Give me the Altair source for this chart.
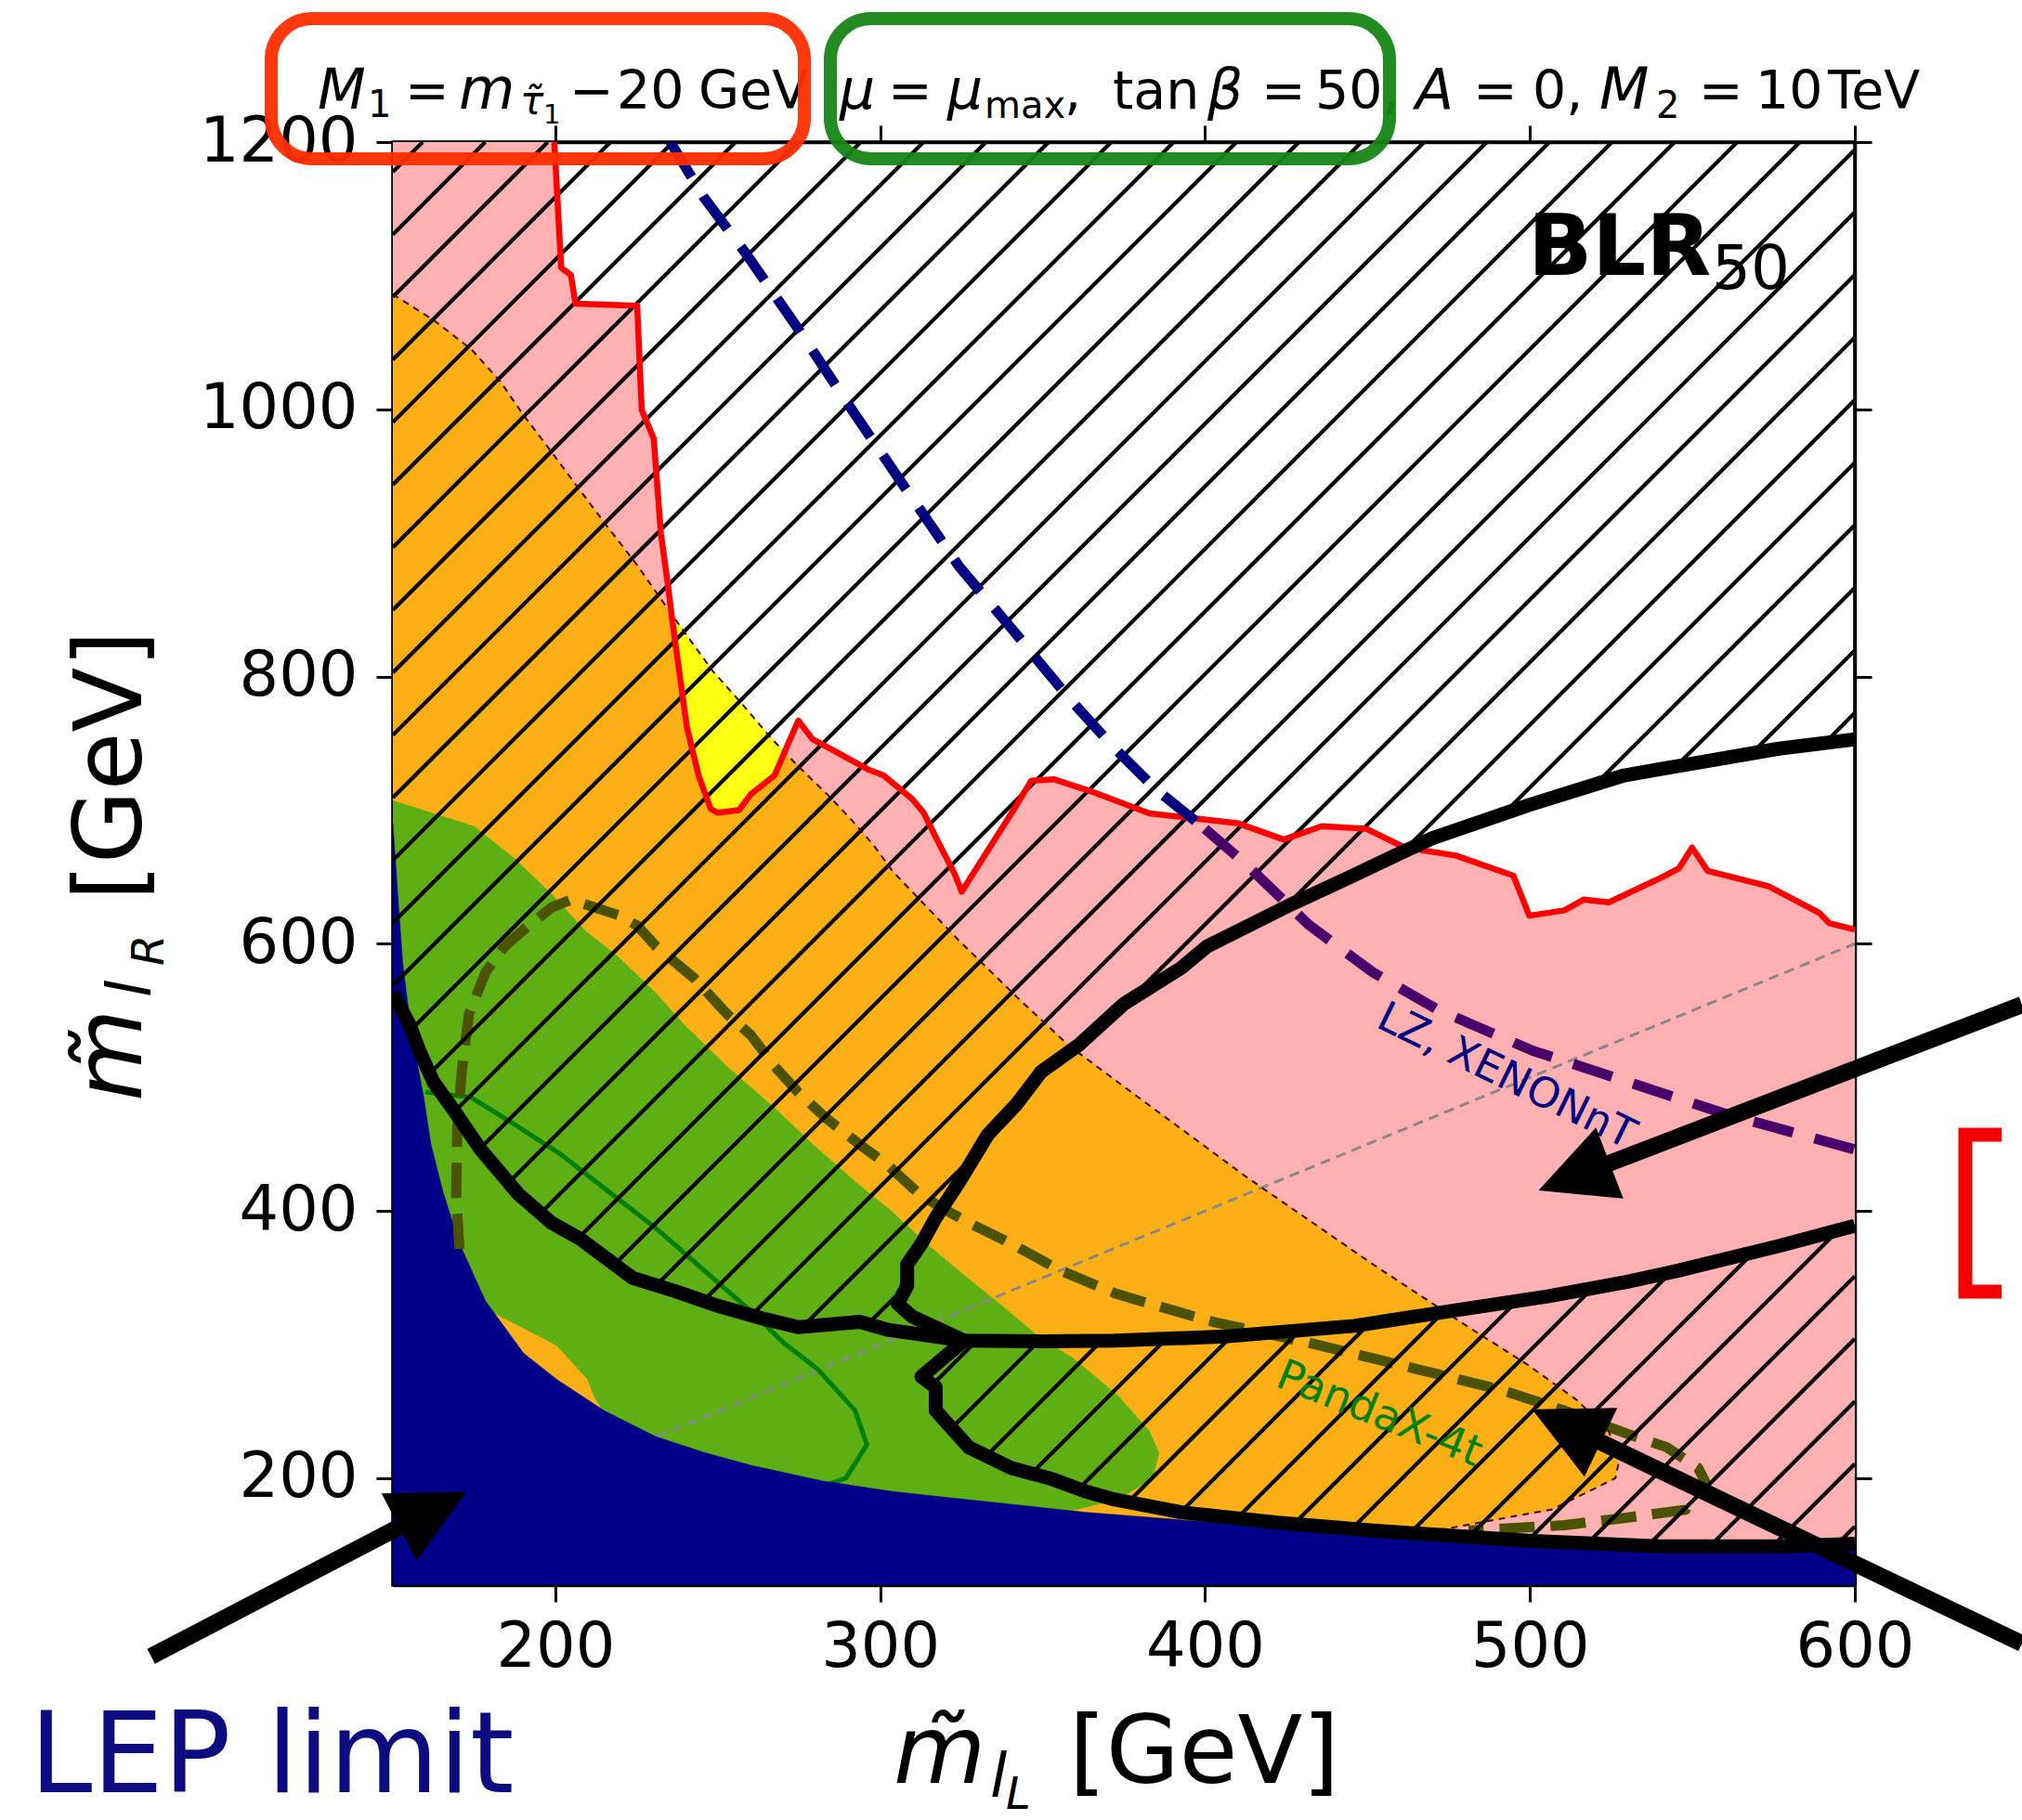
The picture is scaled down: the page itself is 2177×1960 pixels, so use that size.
import math
import altair as alt
import pandas as pd

# ------------------------------------------------------------------
# Data (GeV)
# ------------------------------------------------------------------
# red contour (upper edge of the pink region)
red_x = [199.7, 201.8, 204.8, 206.2, 225.2, 226.6, 230.3, 232.5, 234.7, 236.1, 238.3, 240.5, 244.1, 247.8,
         250.0, 256.5, 260.2, 267.5, 271.9, 274.8, 279.2, 283.5, 296.7, 301.0, 309.8, 313.4, 318.5, 322.9,
         325.1, 331.6, 341.0, 346.5, 353.6, 365.0, 382.9, 396.1, 410.4, 424.2, 435.9, 449.7, 461.5, 477.2,
         494.9, 499.8, 510.6, 516.5, 524.3, 540.0, 545.9, 549.9, 554.7, 573.4, 589.1, 592.1, 600.0]
red_y = [1200, 1106, 1100.6, 1079, 1077.5, 999.5, 978, 907, 868, 840, 801, 762, 726, 701,
         698, 700, 712, 726, 751, 767, 753, 747.5, 730, 726, 708.5, 698, 673, 652.5,
         639, 664, 700, 722, 723, 714, 697.5, 694, 690, 678, 688, 686, 672, 666,
         651, 621, 625, 633, 631, 649, 656.5, 672, 654.5, 643, 623, 615.5, 610.5]

# thin dashed boundary of the orange region
orange_x = [150, 162.4, 174.1, 183.0, 190.1, 199.0, 207.7, 216.4, 225.3, 232.5, 239.9, 248.5, 257.3, 266.0,
            274.7, 283.6, 290.7, 298.2, 303.9, 324.4, 343.4, 358.0, 373.1, 412.4, 451.7, 481.1, 498.8,
            514.5, 524.3, 527.3, 526.3, 516.5, 506.6, 492.8, 471.3]
orange_y = [1086, 1067, 1045, 1021, 996, 967.5, 939, 911, 883, 858, 832.6, 804, 780, 755,
            733, 712, 694, 673, 654, 602, 557, 524, 496.5, 426, 360, 313, 285.7,
            258.4, 235, 211.5, 200, 188.2, 176.4, 170.5, 160.8]

# green region outline
green_x = [150, 174.9, 187.3, 198.9, 209.1, 219.4, 231.0, 239.8, 252.9, 267.5, 279.2, 292.3, 303.9, 314.2,
           325.8, 337.5, 349.2, 359.3, 373.1, 382.9, 385.8, 383.9, 373.1, 359.3, 343.6, 320, 220,
           215.7, 212.1, 209.9, 200.4, 180, 175, 150]
green_y = [707, 688, 664, 637, 610, 590, 563, 539, 508, 477, 450, 422, 399, 375.5,
           352, 329, 305, 290, 262, 235, 219, 200, 184, 176, 170.6, 150, 200,
           246.7, 260.4, 274, 299.4, 325, 300, 300]

# yellow sliver
yellow_x = [235.6, 236.1, 238.3, 240.5, 244.1, 247.8, 250.0, 256.5, 260.2, 267.5, 270.6, 266.0, 257.3, 248.5, 239.9]
yellow_y = [849, 840, 801, 762, 726, 701, 698, 700, 712, 726, 743, 755, 780, 804, 832.6]

# LEP limit (upper edge of the navy region)
blue_x = [150, 151.5, 153.0, 155.2, 157.4, 159.5, 161.7, 165.4, 170.5, 178.5, 190.2, 200.4, 215.0, 231.0,
          245.6, 260.2, 282.1, 303.9, 333.1, 363.0, 402.0, 442.0, 500.0, 540.0, 600.0]
blue_y = [690, 637, 586, 543, 512, 485, 450, 414.5, 375.5, 332.6, 293.6, 274, 250.6, 231,
          219.4, 209.6, 198, 190, 182.3, 174.5, 167, 161, 154, 150, 146]

# thick black contours
curveA_x = [150, 155.2, 158.1, 162.5, 168.3, 177.0, 188.7, 198.9, 207.7, 223.7, 236.8, 250.0, 264.6, 274.8,
            293.7, 302.5, 325.8, 350.0, 372.2, 406.0, 446.0, 478.0, 505.4, 530.0, 545.0, 577.0, 600.0]
curveA_y = [563, 539, 520, 496.5, 477, 446, 412.5, 391, 379, 350, 340, 329, 319, 313,
            317, 311, 303, 302.5, 303, 306, 314, 326, 336, 347, 355, 374, 389]
curveB_x = [325.8, 309.8, 305.4, 308.3, 308.3, 312.7, 317.1, 324.4, 333.1, 342.0, 349.5, 361.0, 375.0,
            392.7, 400.6, 426.1, 443.8, 458.5, 470.0, 500.0, 529.0, 550.4, 576.6, 600.0]
curveB_y = [303, 321, 330.6, 344, 360, 375.5, 395, 422, 457, 480, 504, 524, 555,
            582, 598, 629, 649, 666, 679, 704, 726, 735, 746, 753]
curveC_x = [325.8, 312.7, 317.1, 317.1, 327.3, 340.4, 352.1, 363.3, 372.2, 392.7, 422.2, 451.7, 500.8,
            540.0, 579.3, 600.0]
curveC_y = [303, 276, 268, 250.6, 223, 207.6, 200, 190, 184, 174.5, 166.7, 160.8, 153,
            149, 149, 151]

# LZ, XENONnT limit
lz_x = [235.4, 245.6, 258.7, 274.8, 292.3, 308.3, 324.4, 340.4, 358.4, 371.5, 384.7, 400.0,
        412.4, 432.0, 451.7, 471.3, 500.8, 530.2, 559.7, 600.0]
lz_y = [1200, 1159, 1116.5, 1060, 996, 939, 882, 836, 783, 748, 716, 686,
        660, 614, 578.5, 551, 520, 496.5, 473, 446]
LZ_SPLIT = 11  # index where the line changes hue (enters the pink region)

# PandaX-4t limit
pandax_x = [170.5, 169.5, 169.8, 171.2, 173.4, 178.5, 184.4, 191.7, 198.9, 204.8, 219.4, 225.2, 231.0,
            242.7, 252.9, 260.2, 267.5, 274.8, 283.5, 293.7, 302.5, 311.2, 318.5, 327.3, 340.4, 355.0,
            372.2, 382.9, 402.5, 432.0, 451.7, 471.3, 491.0, 510.6, 530.2, 542.0, 551.8, 553.8, 549.9,
            547.9, 530.2, 510.6, 481.1]
pandax_y = [371.6, 410.6, 461.3, 504.3, 547.2, 578.5, 598, 613.5, 627.2, 633, 621.4, 613.6, 598,
            574.3, 547.2, 531.6, 508.2, 488.7, 469.1, 449.7, 434, 414.5, 402.9, 391.1, 375.5, 356,
            338.4, 330.6, 317, 301.3, 289.7, 278, 266.2, 250.6, 233, 223.3, 207.6, 198, 190.2,
            176.4, 170.6, 164.8, 160.8]

# thin green solid contour
gline_x = [160, 174.1, 187.3, 201.9, 216.4, 231.0, 245.6, 260.2, 270.4, 280.6, 292.3, 295.9, 289.4, 282.1]
gline_y = [489, 485, 465, 442, 414.5, 387, 356, 325, 301, 282, 250.6, 225, 200, 194]

# diagonal m_L = m_R
diag_v = [150, 600]

x_ticks = [200, 300, 400, 500, 600]
y_ticks = [200, 400, 600, 800, 1000, 1200]

# ------------------------------------------------------------------
# Geometry of the figure
# ------------------------------------------------------------------
X_MIN, X_MAX, Y_MIN, Y_MAX = 150, 600, 120, 1200
W, H = 1574, 1554
OX, OY = 423, 153
SX = W / (X_MAX - X_MIN)
SY = H / (Y_MAX - Y_MIN)


def pxd(fx, fy):
    """page pixel -> data coordinates"""
    return X_MIN + (fx - OX) / SX, Y_MAX - (fy - OY) / SY


XS = alt.Scale(domain=[X_MIN, X_MAX], nice=False, zero=False)
YS = alt.Scale(domain=[Y_MIN, Y_MAX], nice=False, zero=False)
XE = alt.X("x:Q", scale=XS, axis=None)
YE = alt.Y("y:Q", scale=YS, axis=None)


def df_xy(xs, ys):
    d = pd.DataFrame({"x": list(xs), "y": list(ys)})
    d["i"] = range(len(d))
    return d


def polygon(xs, ys, color):
    return alt.Chart(df_xy(xs, ys)).mark_line(
        fill=color, stroke=color, strokeWidth=0.5, clip=True
    ).encode(x=XE, y=YE, order="i:Q")


def line(xs, ys, color, width, dash=None, clip=True, opacity=1.0):
    kw = dict(color=color, strokeWidth=width, clip=clip, strokeCap="butt",
              strokeJoin="round", opacity=opacity)
    if dash:
        kw["strokeDash"] = dash
    return alt.Chart(df_xy(xs, ys)).mark_line(**kw).encode(x=XE, y=YE, order="i:Q")


# ---- hatching of the excluded region ----
iA = curveA_x.index(325.8)
H1 = ([(150, 1200), (150, curveA_y[0])] + list(zip(curveA_x[1:iA + 1], curveA_y[1:iA + 1]))
      + list(zip(curveB_x[1:], curveB_y[1:])) + [(600, 1200)])
H2 = (list(zip(curveA_x[iA:], curveA_y[iA:])) + [(600, 151)]
      + list(zip(curveC_x[::-1][1:-1], curveC_y[::-1][1:-1])))


def hatch(poly, spacing=67.4, phase=39.2):
    P = [((x - X_MIN) * SX, (y - Y_MIN) * SY) for x, y in poly]
    n = len(P)
    segs = []
    for k in range(-30, 30):
        c = phase + k * spacing
        xs = []
        for i in range(n):
            (x1, y1), (x2, y2) = P[i], P[(i + 1) % n]
            f1, f2 = y1 - x1 - c, y2 - x2 - c
            if (f1 > 0) != (f2 > 0):
                t = f1 / (f1 - f2)
                xs.append(x1 + t * (x2 - x1))
        xs.sort()
        for a, b in zip(xs[0::2], xs[1::2]):
            segs.append((X_MIN + a / SX, Y_MIN + (a + c) / SY, X_MIN + b / SX, Y_MIN + (b + c) / SY))
    return segs


hatch_df = pd.DataFrame(hatch(H1) + hatch(H2), columns=["x", "y", "x2", "y2"])
hatch_layer = alt.Chart(hatch_df).mark_rule(color="black", strokeWidth=4.2, clip=True).encode(
    x=XE, y=YE, x2="x2:Q", y2="y2:Q")

# ---- filled regions ----
pink = polygon([150, 150] + red_x + [600], [120, 1200] + red_y + [120], "#FFB0B0")
orange = polygon(orange_x + [450, 150], orange_y + [150, 120], "#FDB016")
green = polygon(green_x, green_y, "#5DAF14")
yellow = polygon(yellow_x, yellow_y, "#FFFF14")
blue = polygon(blue_x + [600, 150], blue_y + [120, 120], "#000088")

# ---- lines ----
diag = line(diag_v, diag_v, "#888888", 3, dash=[11, 7])
gline = line(gline_x, gline_y, "#008000", 5)
pandax = line(pandax_x, pandax_y, "#4B5200", 11, dash=[38, 17])
orange_edge = line(orange_x, orange_y, "#3a0a0a", 2, dash=[7, 6])
red_line = line(red_x, red_y, "#FF0000", 6.5)
lz1 = line(lz_x[:LZ_SPLIT + 1], lz_y[:LZ_SPLIT + 1], "#000080", 11, dash=[44, 24])
lz2 = line(lz_x[LZ_SPLIT:], lz_y[LZ_SPLIT:], "#48006A", 11, dash=[44, 24])
cA = line(curveA_x, curveA_y, "black", 15)
cB = line(curveB_x, curveB_y, "black", 15)
cC = line(curveC_x, curveC_y, "black", 15)

# ---- axes (bottom/left with labels, top/right ticks only) ----
ax_df = pd.DataFrame({"x": [X_MIN, X_MAX], "y": [Y_MIN, Y_MAX]})
axis_common = dict(tickColor="black", domainColor="black", tickWidth=3, domainWidth=3.5,
                   tickSize=18, grid=False, title=None, labelFlush=False, labelOverlap=False)
axes_main = alt.Chart(ax_df).mark_point(opacity=0).encode(
    x=alt.X("x:Q", scale=XS, axis=alt.Axis(orient="bottom", values=x_ticks, format="d",
                                           labelPadding=16, **axis_common)),
    y=alt.Y("y:Q", scale=YS, axis=alt.Axis(orient="left", values=y_ticks, format="d",
                                           labelPadding=20, **axis_common)))
axes_mirror = alt.Chart(ax_df).mark_point(opacity=0).encode(
    x=alt.X("x:Q", scale=XS, axis=alt.Axis(orient="top", values=x_ticks, labels=False, **axis_common)),
    y=alt.Y("y:Q", scale=YS, axis=alt.Axis(orient="right", values=y_ticks, labels=False, **axis_common)))


# ---- texts ----
def texts(rows, italic=False, weight="normal", color="black", angle=0, align="left",
          baseline="alphabetic"):
    d = pd.DataFrame(rows, columns=["fx", "fy", "t", "fs"])
    pts = [pxd(a, b) for a, b in zip(d.fx, d.fy)]
    d["x"] = [p[0] for p in pts]
    d["y"] = [p[1] for p in pts]
    return alt.Chart(d).mark_text(
        font="DejaVu Sans", fontStyle="italic" if italic else "normal", fontWeight=weight,
        color=color, angle=angle, align=align, baseline=baseline, clip=False
    ).encode(x=XE, y=YE, text="t:N", size=alt.Size("fs:Q", scale=None, legend=None))


title_italic = [(342, 117, "M", 60), (494, 117, "m", 62), (560, 123, "\u03c4\u0303", 42),
                (904, 117, "\u03bc", 60), (1020, 117, "\u03bc", 60), (1300, 117, "\u03b2", 60),
                (1524, 117, "A", 60), (1722, 117, "M", 62)]
title_normal = [(396, 126, "1", 40), (436, 117, "=", 57), (585, 133, "1", 29), (613, 117, "\u2212", 57),
                (664, 117, "20", 57), (752, 117, "GeV", 57), (956, 117, "=", 57), (1060, 127, "max", 40),
                (1146, 117, ",", 57), (1198, 117, "tan", 57), (1358, 117, "=", 57), (1416, 117, "50,", 57),
                (1586, 117, "=", 57), (1650, 117, "0,", 57), (1783, 127, "2", 40), (1829, 117, "=", 57),
                (1890, 117, "10", 57), (1968, 117, "TeV", 57)]

xt_italic = [(962, 1920, "m\u0303", 102), (1066, 1935, "l", 66), (1083, 1948, "L", 48)]
xt_normal = [(1151, 1920, "[GeV]", 102)]
yt_italic = [(152, 1186, "m\u0303", 102), (162, 1074, "l", 66), (176, 1040, "R", 48)]
yt_normal = [(152, 970, "[GeV]", 102)]

blr_bold = [(1645, 296, "BLR", 91)]
blr_sub = [(1843, 311, "50", 66)]
lep_text = [(32, 1930, "LEP limit", 121)]
lz_text = [(1622, 1159, "LZ, XENONnT", 45)]
px_text = [(1485, 1523, "PandaX-4t", 46)]

# ---- annotation boxes ----
boxes = pd.DataFrame({
    "fx1": [292, 894], "fx2": [866, 1496], "fy1": [20, 20], "fy2": [171, 171],
    "c": ["#FF2D00", "#168516"]})
bx = [pxd(a, b) for a, b in zip(boxes.fx1, boxes.fy1)]
bx2 = [pxd(a, b) for a, b in zip(boxes.fx2, boxes.fy2)]
boxes["x"] = [p[0] for p in bx]
boxes["y"] = [p[1] for p in bx]
boxes["x2"] = [p[0] for p in bx2]
boxes["y2"] = [p[1] for p in bx2]
box_layer = alt.Chart(boxes).mark_rect(filled=False, strokeWidth=14, cornerRadius=44, clip=False,
                                       opacity=0.95).encode(
    x=XE, y=YE, x2="x2:Q", y2="y2:Q", stroke=alt.Stroke("c:N", scale=None, legend=None))

# ---- arrows ----
arrows = [((162.7, 1783.7), (502.4, 1606.6)),
          ((2177, 1082), (1656.5, 1282)),
          ((2177, 1770), (1649.6, 1517.8))]
HEAD = 82
shaft_rows, head_rows = [], []
for (tx, ty), (hx, hy) in arrows:
    dx, dy = hx - tx, hy - ty
    L = math.hypot(dx, dy)
    ux, uy = dx / L, dy / L
    ex, ey = hx - ux * (HEAD - 12), hy - uy * (HEAD - 12)
    cx, cy = hx - ux * HEAD / 2, hy - uy * HEAD / 2
    a0 = pxd(tx, ty)
    a1 = pxd(ex, ey)
    shaft_rows.append((a0[0], a0[1], a1[0], a1[1]))
    c = pxd(cx, cy)
    ang = math.degrees(math.atan2(dx, -dy)) % 360
    head_rows.append((c[0], c[1], ang))
shaft_df = pd.DataFrame(shaft_rows, columns=["x", "y", "x2", "y2"])
head_df = pd.DataFrame(head_rows, columns=["x", "y", "ang"])
shafts = alt.Chart(shaft_df).mark_rule(color="black", strokeWidth=18, clip=False,
                                       strokeCap="butt").encode(x=XE, y=YE, x2="x2:Q", y2="y2:Q")
heads = alt.Chart(head_df).mark_point(shape="M0,-1L1,1L-1,1Z", filled=True, color="black",
                                      opacity=1, size=HEAD * HEAD, clip=False).encode(
    x=XE, y=YE, angle=alt.Angle("ang:Q", scale=None))

# red bracket at the right margin
br = [pxd(a, b) for a, b in [(2155, 1222), (2116, 1222), (2116, 1391), (2155, 1391)]]
bracket = alt.Chart(df_xy([p[0] for p in br], [p[1] for p in br])).mark_line(
    color="#F50000", strokeWidth=15, strokeJoin="miter", strokeCap="butt", clip=False
).encode(x=XE, y=YE, order="i:Q")

chart = alt.layer(
    axes_main, axes_mirror,
    pink, orange, green, yellow, diag, gline, blue, pandax,
    hatch_layer, orange_edge, red_line, lz1, lz2, cA, cB, cC,
    texts(title_italic, italic=True), texts(title_normal),
    texts(xt_italic, italic=True), texts(xt_normal),
    texts(yt_italic, italic=True, angle=270), texts(yt_normal, angle=270),
    texts(blr_bold, weight="bold"), texts(blr_sub),
    texts(lep_text, color="#0C0C80"),
    texts(lz_text, color="#000080", angle=26, align="center", baseline="middle"),
    texts(px_text, color="#008000", angle=22, align="center", baseline="middle"),
    box_layer, shafts, heads, bracket,
).resolve_axis(x="independent", y="independent").properties(
    width=W, height=H,
    padding={"left": OX, "top": OY, "right": 2177 - OX - W, "bottom": 1960 - OY - H},
    autosize=alt.AutoSizeParams(type="none"),
    background="white",
).configure_axis(
    labelFont="DejaVu Sans", labelFontSize=67, labelColor="black",
).configure_view(stroke="black", strokeWidth=3.5)

chart.save("out.html", embed_options={"renderer": "svg", "actions": False})
